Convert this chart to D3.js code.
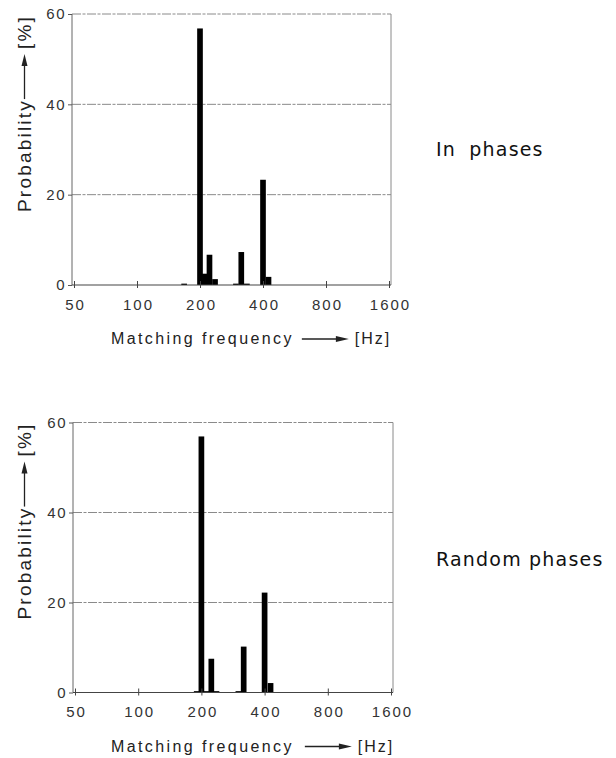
<!DOCTYPE html>
<html>
<head>
<meta charset="utf-8">
<script src="https://cdn.jsdelivr.net/npm/d3@7"></script>
<style>
  html, body { margin: 0; padding: 0; background: #fff; }
  svg { display: block; }
  text { font-family: "Liberation Sans", Arial, sans-serif; }
</style>
</head>
<body>
<svg id="chart" width="616" height="758"></svg>
<script>
// ---- data ----
const xTickValues = [50, 100, 200, 400, 800, 1600];
const xTickLabels = ["50", "100", "200", "400", "800", "1600"];
const yTickValues = [0, 20, 40, 60];
const yTickLabels = ["0", "20", "40", "60"];

// matching frequency [Hz] and probability [%] - in phases
const inPhasesFreq = [168, 200, 211, 222, 236, 297, 315, 335, 400, 425];
const inPhasesProb = [0.3, 56.8, 2.5, 6.7, 1.3, 0.3, 7.3, 0.3, 23.3, 1.8];

// matching frequency [Hz] and probability [%] - random phases
const randomFreq = [190, 200, 211, 223, 236, 300, 318, 400, 427];
const randomProb = [0.3, 56.9, 0.3, 7.5, 0.3, 0.3, 10.2, 22.2, 2.1];

const panelNames = ["In phases", "Random phases"];

// ---- drawing ----
const svg = d3.select("#chart");
const barOct = 0.09; // bar width in octaves

function drawPanel(cfg) {
  const g = svg.append("g");
  const x = d3.scaleLog().base(2).domain([50, 1600]).range([cfg.x0 + 2, cfg.x1 - 2]);
  const y = d3.scaleLinear().domain([0, 60]).range([cfg.zero, cfg.top]);

  // grid lines
  g.selectAll(".grid").data([20, 40]).enter().append("line")
    .attr("x1", cfg.x0).attr("x2", cfg.x1)
    .attr("y1", d => y(d)).attr("y2", d => y(d))
    .attr("stroke", "#8a8a8a").attr("stroke-width", 1)
    .attr("stroke-dasharray", "9,1.5,3,1.5");
  // frame top / right
  g.append("line").attr("x1", cfg.x0).attr("x2", cfg.x1)
    .attr("y1", y(60)).attr("y2", y(60))
    .attr("stroke", "#8a8a8a").attr("stroke-dasharray", "9,1.5,3,1.5");
  g.append("line").attr("x1", cfg.x1).attr("x2", cfg.x1)
    .attr("y1", y(60)).attr("y2", y(0))
    .attr("stroke", "#8a8a8a");
  // left frame
  g.append("line").attr("x1", cfg.x0).attr("x2", cfg.x0)
    .attr("y1", y(60)).attr("y2", y(0))
    .attr("stroke", "#666");

  // bars
  const data = cfg.freq.map((f, i) => ({ f, p: cfg.prob[i] }));
  g.selectAll(".bar").data(data).enter().append("rect")
    .attr("x", d => x(d.f * Math.pow(2, -barOct / 2)))
    .attr("width", d => x(d.f * Math.pow(2, barOct / 2)) - x(d.f * Math.pow(2, -barOct / 2)))
    .attr("y", d => y(d.p))
    .attr("height", d => y(0) - y(d.p))
    .attr("fill", "#000");

  // x axis line
  g.append("line").attr("x1", cfg.x0).attr("x2", cfg.x1)
    .attr("y1", y(0)).attr("y2", y(0))
    .attr("stroke", "#444").attr("stroke-width", 1.2);

  // x axis via d3
  const xAxis = d3.axisBottom(x).tickValues(xTickValues)
    .tickFormat((d, i) => xTickLabels[i]).tickSizeInner(0).tickSizeOuter(0).tickPadding(14);
  const xa = g.append("g").attr("transform", `translate(0,${y(0)})`).call(xAxis);
  xa.select(".domain").remove();
  xa.selectAll(".tick text")
    .attr("font-size", 15).attr("fill", "#333")
    .style("font-family", "Liberation Sans, Arial, sans-serif")
    .style("letter-spacing", "2px").attr("dx", "1px");
  xa.selectAll(".tick").append("line")
    .attr("y1", -4).attr("y2", 3).attr("stroke", "#444");

  // y axis via d3
  const yAxis = d3.axisLeft(y).tickValues(yTickValues)
    .tickFormat((d, i) => yTickLabels[i]).tickSizeInner(4).tickSizeOuter(0).tickPadding(2);
  const ya = g.append("g").attr("transform", `translate(${cfg.x0},0)`).call(yAxis);
  ya.select(".domain").remove();
  ya.selectAll(".tick line").attr("stroke", "#555");
  ya.selectAll(".tick text")
    .attr("font-size", 15).attr("fill", "#333")
    .style("font-family", "Liberation Sans, Arial, sans-serif")
    .style("letter-spacing", "1.5px");

  // y title (rotated)
  const yt = g.append("g").attr("transform", `translate(31,${y(0) - 73}) rotate(-90)`);
  const p1 = yt.append("text").attr("x", 0).attr("y", 0)
    .attr("font-size", 19).attr("fill", "#222").style("letter-spacing", "2.2px")
    .text("Probability");
  const l1 = p1.node().getComputedTextLength();
  const a0 = l1 + 0, a1 = a0 + 45;
  yt.append("line").attr("x1", a0).attr("x2", a1 - 9).attr("y1", -6.5).attr("y2", -6.5)
    .attr("stroke", "#222").attr("stroke-width", 1.3);
  yt.append("path").attr("d", `M${a1 - 12},-9.5 L${a1},-6.5 L${a1 - 12},-3.5 Z`).attr("fill", "#222");
  yt.append("text").attr("x", a1 + 5).attr("y", 0)
    .attr("font-size", 19).attr("fill", "#222").style("letter-spacing", "2.2px")
    .text("[%]");

  // x title
  const xt = g.append("g").attr("transform", `translate(111,${y(0) + 59})`);
  const t1 = xt.append("text").attr("x", 0).attr("y", 0)
    .attr("font-size", 16).attr("fill", "#222").style("letter-spacing", "2.4px")
    .text("Matching frequency");
  const tl = t1.node().getComputedTextLength();
  const b0 = tl + 8 + cfg.arrowShift, b1 = b0 + 47;
  xt.append("line").attr("x1", b0).attr("x2", b1 - 9).attr("y1", -5).attr("y2", -5)
    .attr("stroke", "#222").attr("stroke-width", 1.3);
  xt.append("path").attr("d", `M${b1 - 13},-8 L${b1},-5 L${b1 - 13},-2 Z`).attr("fill", "#222");
  xt.append("text").attr("x", b1 + 6).attr("y", 0)
    .attr("font-size", 16).attr("fill", "#222").style("letter-spacing", "2px")
    .text("[Hz]");

  // side label
  svg.append("text").attr("x", 436).attr("y", cfg.labelY)
    .attr("font-size", 19).attr("fill", "#111")
    .style("font-family", "DejaVu Sans, sans-serif").style("letter-spacing", "1.2px")
    .style("word-spacing", cfg.wordSpacing)
    .text(cfg.name);
}

drawPanel({ x0: 72, x1: 391, top: 14, zero: 285, freq: inPhasesFreq, prob: inPhasesProb,
            name: panelNames[0], labelY: 156, wordSpacing: "6px", arrowShift: 0 });
drawPanel({ x0: 73, x1: 393, top: 422.5, zero: 692.5, freq: randomFreq, prob: randomProb,
            name: panelNames[1], labelY: 566, wordSpacing: "0px", arrowShift: 3 });
</script>
</body>
</html>
